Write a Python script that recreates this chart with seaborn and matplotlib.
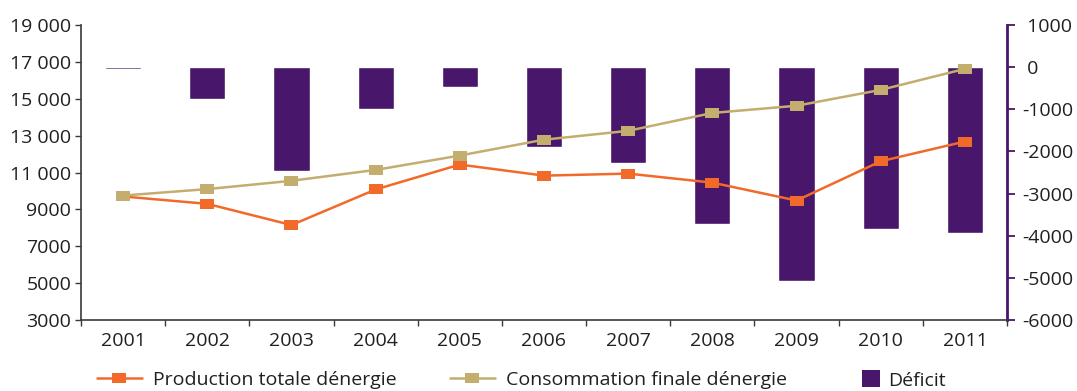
import matplotlib
matplotlib.use("Agg")
import numpy as np
import pandas as pd
import matplotlib.pyplot as plt
import seaborn as sns
from matplotlib.ticker import FixedLocator, FuncFormatter
from matplotlib.lines import Line2D
from matplotlib.patches import Patch

# Data (ktep)
annees = ["2001", "2002", "2003", "2004", "2005", "2006", "2007", "2008", "2009", "2010", "2011"]
production = [9700, 9300, 8150, 10080, 11430, 10830, 10940, 10450, 9480, 11610, 12680]
consommation = [9750, 10100, 10550, 11140, 11920, 12780, 13260, 14230, 14620, 15480, 16620]
deficit = [-45, -750, -2460, -1000, -470, -1890, -2270, -3720, -5070, -3830, -3930]

labels = ["Production totale dénergie", "Consommation finale dénergie", "Déficit"]

PURPLE = "#48166a"
ORANGE = "#f26a2a"
TAN = "#c3ad6f"
DARK = "#3a3a3a"
TEXT = "#231f20"

sns.set_theme(style="ticks")
plt.rcParams["font.family"] = ["Open Sans", "DejaVu Sans"]
plt.rcParams["axes.unicode_minus"] = False

df = pd.DataFrame({"annee": annees, "production": production,
                   "consommation": consommation, "deficit": deficit})

W, H = 1077, 391
fig = plt.figure(figsize=(W / 100, H / 100), dpi=100)
ax = fig.add_axes([81 / W, 71 / H, 926 / W, 295 / H])
ax2 = ax.twinx()

# Deficit bars on the right axis
sns.barplot(data=df, x="annee", y="deficit", ax=ax2, color=PURPLE,
            saturation=1, width=0.43, errorbar=None)

# Wide rectangular markers for the lines
rect = [(-1.6, -1), (1.6, -1), (1.6, 1), (-1.6, 1), (-1.6, -1)]
LW, MS = 1.8, 10.5
sns.pointplot(data=df, x="annee", y="production", ax=ax, color=ORANGE,
              marker=rect, markersize=MS, markeredgewidth=0, linewidth=LW,
              errorbar=None)
sns.pointplot(data=df, x="annee", y="consommation", ax=ax, color=TAN,
              marker=rect, markersize=MS, markeredgewidth=0, linewidth=LW,
              errorbar=None)

ax.set_zorder(ax2.get_zorder() + 1)
ax.patch.set_visible(False)

ax.set_xlim(-0.5, len(annees) - 0.5)
ax.set_ylim(3000, 19000)
ax2.set_ylim(-6000, 1000)
ax.set_xlabel("")
ax.set_ylabel("")
ax2.set_xlabel("")
ax2.set_ylabel("")

# Left axis ticks
ax.yaxis.set_major_locator(FixedLocator(np.arange(3000, 19001, 2000)))
ax.yaxis.set_major_formatter(FuncFormatter(
    lambda v, p: f"{int(v):,}".replace(",", " ") if v >= 10000 else f"{int(v)}"))
# Right axis ticks
ax2.yaxis.set_major_locator(FixedLocator(np.arange(-6000, 1001, 1000)))
ax2.yaxis.set_major_formatter(FuncFormatter(
    lambda v, p: f"{int(v)}" if v < 0 else f" {int(v)}"))

# Category labels centred, tick marks between categories
ax.set_xticks(range(len(annees)))
ax.set_xticklabels(annees)
ax.xaxis.set_minor_locator(FixedLocator(np.arange(-0.5, len(annees), 1)))

fs = 14
ax.tick_params(axis="y", which="major", left=True, right=False, direction="out",
               length=4, width=1, color=DARK, pad=3, labelsize=fs, labelcolor=TEXT)
ax.tick_params(axis="x", which="major", bottom=True, length=0, pad=9,
               labelsize=fs, labelcolor=TEXT)
ax.tick_params(axis="x", which="minor", bottom=True, direction="out",
               length=4, width=1, color=DARK)
ax2.tick_params(axis="y", which="major", right=True, left=False, direction="out",
                length=6, width=1.3, color=PURPLE, pad=5, labelsize=fs,
                labelcolor=TEXT)
ax2.tick_params(axis="x", which="both", bottom=False, top=False)

for s in ["top", "right"]:
    ax.spines[s].set_visible(False)
for s in ["left", "bottom"]:
    ax.spines[s].set_color(DARK)
    ax.spines[s].set_linewidth(1.2)
for s in ["top", "left", "bottom"]:
    ax2.spines[s].set_visible(False)
ax2.spines["right"].set_color(PURPLE)
ax2.spines["right"].set_linewidth(2)

# Legend entries placed along the bottom edge
h_prod = Line2D([], [], color=ORANGE, lw=LW, marker=rect, ms=MS, mew=0)
h_cons = Line2D([], [], color=TAN, lw=LW, marker=rect, ms=MS, mew=0)
h_def = Patch(facecolor=PURPLE, edgecolor="none")

ly = 11 / H
common = dict(loc="center left", frameon=False, fontsize=fs, borderpad=0,
              borderaxespad=0, labelcolor=TEXT)
fig.legend([h_prod], [labels[0]], bbox_to_anchor=(97 / W, ly),
           handlelength=2.3, handletextpad=0.6, **common)
fig.legend([h_cons], [labels[1]], bbox_to_anchor=(450 / W, ly),
           handlelength=2.3, handletextpad=0.6, **common)
fig.legend([h_def], [labels[2]], bbox_to_anchor=(862 / W, ly),
           handlelength=0.95, handleheight=0.95, handletextpad=0.4, **common)

fig.savefig("out.png", dpi=100)
